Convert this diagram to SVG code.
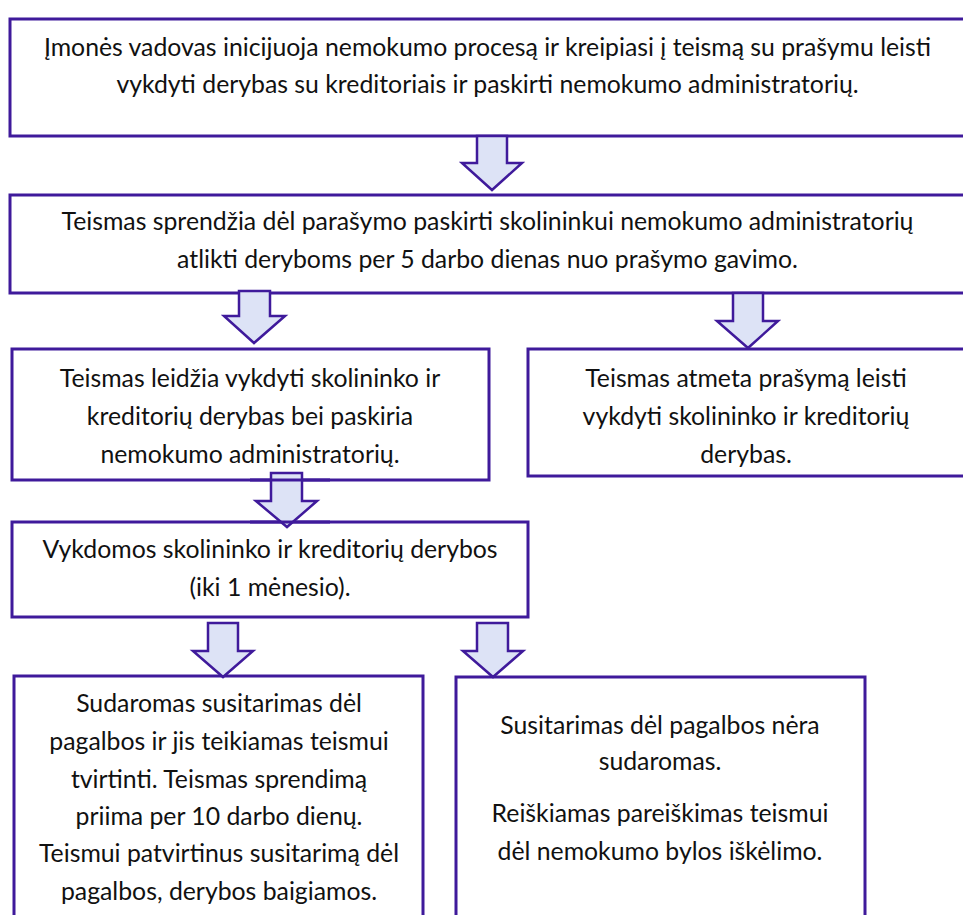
<svg xmlns="http://www.w3.org/2000/svg" width="963" height="915" viewBox="0 0 963 915">
<style>
.box{fill:#ffffff;stroke:#3f1a9b;stroke-width:3}
.arr{fill:#dde3f6;stroke:#3f1a9b;stroke-width:2.5;stroke-linejoin:miter}
text{font-family:Lato,"Open Sans","Liberation Sans",sans-serif;font-size:24.8px;fill:#111111;text-anchor:middle}
</style>
<rect width="963" height="915" fill="#ffffff"/>
<g id="n1"><rect class="box" x="10" y="19" width="960" height="117"/>
<text x="487.5" y="56">Įmonės vadovas inicijuoja nemokumo procesą ir kreipiasi į teismą su prašymu leisti</text>
<text x="487.5" y="93">vykdyti derybas su kreditoriais ir paskirti nemokumo administratorių.</text></g>
<g id="n2"><rect class="box" x="10" y="195" width="960" height="98"/>
<text x="487.5" y="230">Teismas sprendžia dėl parašymo paskirti skolininkui nemokumo administratorių</text>
<text x="487.5" y="268">atlikti deryboms per 5 darbo dienas nuo prašymo gavimo.</text></g>
<g id="n3"><rect class="box" x="12" y="349" width="477" height="131"/>
<text x="250" y="387">Teismas leidžia vykdyti skolininko ir</text>
<text x="250" y="425">kreditorių derybas bei paskiria</text>
<text x="250" y="463">nemokumo administratorių.</text></g>
<g id="n4"><rect class="box" x="528" y="349" width="440" height="127"/>
<text x="746" y="387">Teismas atmeta prašymą leisti</text>
<text x="746" y="425">vykdyti skolininko ir kreditorių</text>
<text x="746" y="463">derybas.</text></g>
<g id="n5"><rect class="box" x="12" y="522" width="516" height="95"/>
<text x="270" y="558">Vykdomos skolininko ir kreditorių derybos</text>
<text x="270" y="596">(iki 1 mėnesio).</text></g>
<g id="n6"><rect class="box" x="14" y="676" width="409" height="250"/>
<text x="219" y="712">Sudaromas susitarimas dėl</text>
<text x="219" y="750">pagalbos ir jis teikiamas teismui</text>
<text x="219" y="788">tvirtinti. Teismas sprendimą</text>
<text x="219" y="825">priima per 10 darbo dienų.</text>
<text x="219" y="862">Teismui patvirtinus susitarimą dėl</text>
<text x="219" y="900">pagalbos, derybos baigiamos.</text></g>
<g id="n7"><rect class="box" x="456" y="677" width="409" height="250"/>
<text x="660" y="734">Susitarimas dėl pagalbos nėra</text>
<text x="660" y="770">sudaromas.</text>
<text x="660" y="822">Reiškiamas pareiškimas teismui</text>
<text x="660" y="860">dėl nemokumo bylos iškėlimo.</text></g>
<g id="connectors">
<polygon class="arr" points="477,136 507,136 507,163 522,163 492,190 462,163 477,163"/>
<polygon class="arr" points="239,291 270,291 270,316 285,316 254,343 224,316 239,316"/>
<polygon class="arr" points="733,293 763,293 763,321 778,321 748,348 717,321 733,321"/>
<polygon class="arr" points="271,473 302,473 302,501 317,501 287,527 256,501 271,501"/>
<polygon class="arr" points="208,623 238,623 238,651 253,651 223,677 193,651 208,651"/>
<polygon class="arr" points="477,623 508,623 508,651 523,651 493,677 463,651 477,651"/>
<line x1="250" y1="480" x2="330" y2="480" stroke="#3f1a9b" stroke-width="3"/>
<line x1="250" y1="522" x2="330" y2="522" stroke="#3f1a9b" stroke-width="3"/>
</g>
</svg>
